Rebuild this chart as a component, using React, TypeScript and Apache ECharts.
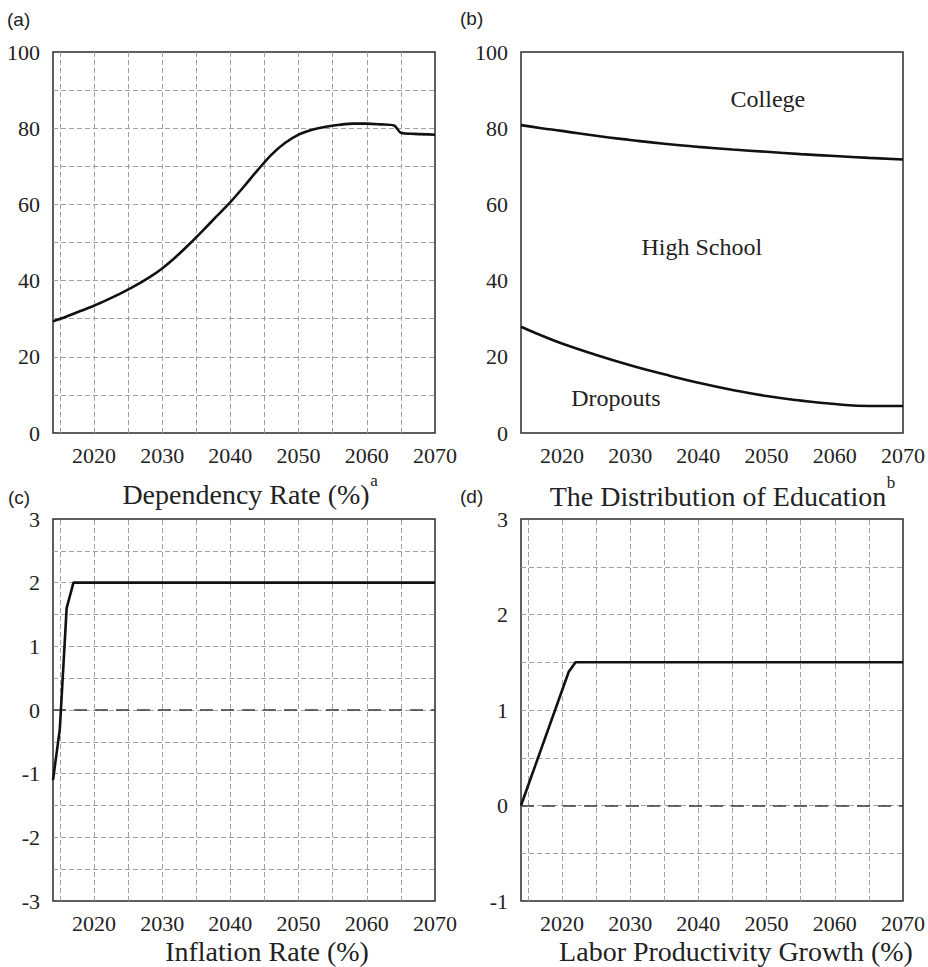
import React, { useEffect, useRef } from 'react';
import * as echarts from 'echarts';

// ---- data ----
const depYears = [2014, 2016, 2018, 2020, 2022, 2024, 2026, 2028, 2030, 2032, 2034, 2036, 2038, 2040, 2042, 2044, 2046, 2048, 2050, 2052, 2054, 2056, 2058, 2060, 2062, 2064, 2065, 2067, 2070];
const depValues = [29.3, 30.6, 32.0, 33.4, 35.0, 36.7, 38.6, 40.7, 43.2, 46.2, 49.6, 53.2, 56.9, 60.6, 64.7, 69.0, 73.0, 76.1, 78.3, 79.6, 80.4, 80.9, 81.2, 81.2, 81.0, 80.7, 78.8, 78.5, 78.3];

const eduYears = [2014, 2017, 2020, 2025, 2030, 2035, 2040, 2045, 2050, 2055, 2060, 2065, 2070];
const eduUpper = [80.8, 80.0, 79.3, 78.0, 76.9, 75.9, 75.1, 74.4, 73.8, 73.2, 72.7, 72.2, 71.8];
const eduLower = [27.9, 25.6, 23.5, 20.5, 17.8, 15.4, 13.2, 11.3, 9.7, 8.5, 7.6, 7.1, 7.1];
const eduLabels = ['College', 'High School', 'Dropouts'];

const inflYears = [2014, 2015, 2016, 2017, 2070];
const inflValues = [-1.1, -0.3, 1.6, 2.0, 2.0];

const prodYears = [2014, 2021, 2022, 2070];
const prodValues = [0, 1.4, 1.5, 1.5];

// tick labels / grid positions
const xTickLabels = [2020, 2030, 2040, 2050, 2060, 2070];
const gridYears = [2015, 2020, 2025, 2030, 2035, 2040, 2045, 2050, 2055, 2060, 2065];
const yTicksA = [0, 20, 40, 60, 80, 100];
const yTicksB = [0, 20, 40, 60, 80, 100];
const yTicksC = [-3, -2, -1, 0, 1, 2, 3];
const yTicksD = [-1, 0, 1, 2, 3];

const titles = ['Dependency Rate (%)', 'The Distribution of Education', 'Inflation Rate (%)', 'Labor Productivity Growth (%)'];
const superscripts = ['a', 'b'];
const panelTags = ['(a)', '(b)', '(c)', '(d)'];

// annotation anchor points (data coordinates) for panel (b) labels
const eduLabelAnchors = [[2050.2, 87.7], [2040.5, 48.8], [2027.9, 9.2]];

const SERIF = 'Liberation Serif';
const SANS = 'Liberation Sans';
const TEXT = '#222';
const GRID_LINE = { color: '#a0a0a0', type: [5, 3] as number[], width: 1 };
const X_MIN = 2014;
const X_MAX = 2070;

const pairs = (xs: number[], ys: number[]) => xs.map((x, i) => [x, ys[i]]);

function makeX(gridIndex: number) {
  return {
    type: 'value',
    gridIndex,
    min: X_MIN,
    max: X_MAX,
    axisLine: { show: false },
    axisTick: { show: false },
    splitLine: { show: false },
    axisLabel: { show: false },
  };
}

function makeY(gridIndex: number, min: number, max: number, interval: number, grid: boolean) {
  return {
    type: 'value',
    gridIndex,
    min,
    max,
    interval,
    axisLine: { show: false },
    axisTick: { show: false },
    splitLine: { show: grid, showMinLine: false, showMaxLine: false, lineStyle: GRID_LINE },
    axisLabel: { show: false },
  };
}

function tickLabelSeries(idx: number, yMin: number, yTicks: number[]) {
  const common = {
    type: 'scatter',
    xAxisIndex: idx,
    yAxisIndex: idx,
    symbolSize: 0,
    silent: true,
    clip: false,
    z: 7,
    itemStyle: { opacity: 1 },
  };
  const font = { fontFamily: SERIF, fontSize: 22, color: TEXT, textBorderWidth: 0 };
  return [
    {
      ...common,
      data: xTickLabels.map((x) => [x, yMin]),
      label: {
        show: true, position: 'bottom', distance: 11,
        formatter: (p: any) => String(p.value[0]),
        ...font,
      },
    },
    {
      ...common,
      data: yTicks.map((y) => [X_MIN, y]),
      label: {
        show: true, position: 'left', distance: 13,
        formatter: (p: any) => String(p.value[1]),
        ...font,
      },
    },
  ];
}

function vGridSeries(idx: number, withZero: boolean) {
  const data: any[] = gridYears.map((x) => ({ xAxis: x }));
  if (withZero) {
    data.push({ yAxis: 0, lineStyle: { color: '#3a3a3a', type: [13, 8], width: 1.5 } });
  }
  return {
    type: 'line',
    xAxisIndex: idx,
    yAxisIndex: idx,
    data: [],
    z: 1,
    silent: true,
    markLine: {
      silent: true,
      symbol: ['none', 'none'],
      label: { show: false },
      lineStyle: GRID_LINE,
      animation: false,
      data,
    },
  };
}

const LINE = { color: '#111', width: 2.6 };

function buildOption() {
  return {
    animation: false,
    backgroundColor: '#fff',
    textStyle: { fontFamily: SERIF },
    grid: [
      { left: 53, top: 52, width: 382, height: 381 },
      { left: 521, top: 52, width: 382, height: 381 },
      { left: 53, top: 519, width: 382, height: 382 },
      { left: 521, top: 519, width: 382, height: 382 },
    ].map((g) => ({ ...g, show: true, borderColor: '#2a2a2a', borderWidth: 1.5, backgroundColor: 'transparent' })),
    xAxis: [makeX(0), makeX(1), makeX(2), makeX(3)],
    yAxis: [
      makeY(0, 0, 100, 10, true),
      makeY(1, 0, 100, 20, false),
      makeY(2, -3, 3, 0.5, true),
      makeY(3, -1, 3, 0.5, true),
    ],
    series: [
      vGridSeries(0, false),
      {
        type: 'line', xAxisIndex: 0, yAxisIndex: 0, z: 5,
        data: pairs(depYears, depValues), showSymbol: false, smooth: 0.3,
        lineStyle: LINE,
      },
      {
        type: 'line', xAxisIndex: 1, yAxisIndex: 1, z: 5,
        data: pairs(eduYears, eduUpper), showSymbol: false, smooth: true,
        lineStyle: LINE,
      },
      {
        type: 'line', xAxisIndex: 1, yAxisIndex: 1, z: 5,
        data: pairs(eduYears, eduLower), showSymbol: false, smooth: true,
        lineStyle: LINE,
      },
      {
        type: 'scatter', xAxisIndex: 1, yAxisIndex: 1, z: 6, symbolSize: 0, silent: true,
        itemStyle: { opacity: 1 },
        data: eduLabels.map((name, i) => ({ name, value: eduLabelAnchors[i] })),
        label: {
          show: true, position: 'inside', formatter: '{b}',
          fontFamily: SERIF, fontSize: 24, color: TEXT, textBorderWidth: 0,
        },
      },
      vGridSeries(2, true),
      {
        type: 'line', xAxisIndex: 2, yAxisIndex: 2, z: 5,
        data: pairs(inflYears, inflValues), showSymbol: false,
        lineStyle: LINE,
      },
      vGridSeries(3, true),
      {
        type: 'line', xAxisIndex: 3, yAxisIndex: 3, z: 5,
        data: pairs(prodYears, prodValues), showSymbol: false,
        lineStyle: LINE,
      },
      ...tickLabelSeries(0, 0, yTicksA),
      ...tickLabelSeries(1, 0, yTicksB),
      ...tickLabelSeries(2, -3, yTicksC),
      ...tickLabelSeries(3, -1, yTicksD),
    ],
    graphic: [
      ...[
        [246, 494], [718, 496], [267, 951], [736, 951],
      ].map(([x, y], i) => ({
        type: 'text', x, y, silent: true,
        style: {
          text: titles[i], font: `28px "${SERIF}"`, fill: TEXT,
          align: 'center', verticalAlign: 'middle', textAlign: 'center', textVerticalAlign: 'middle',
        },
      })),
      ...[
        [374, 480], [891, 482],
      ].map(([x, y], i) => ({
        type: 'text', x, y, silent: true,
        style: {
          text: superscripts[i], font: `17px "${SERIF}"`, fill: TEXT,
          align: 'center', verticalAlign: 'middle', textAlign: 'center', textVerticalAlign: 'middle',
        },
      })),
      ...[
        [7, 19], [460, 18], [8, 497], [460, 496],
      ].map(([x, y], i) => ({
        type: 'text', x, y, silent: true,
        style: {
          text: panelTags[i], font: `19px "${SANS}"`, fill: TEXT,
          align: 'left', verticalAlign: 'middle', textAlign: 'left', textVerticalAlign: 'middle',
        },
      })),
    ],
  };
}

export default function App() {
  const ref = useRef<HTMLDivElement>(null);
  useEffect(() => {
    if (!ref.current) return;
    const chart = echarts.init(ref.current, null, { renderer: 'svg' });
    chart.setOption(buildOption() as any);
    return () => chart.dispose();
  }, []);
  return (
    <div
      ref={ref}
      style={{ position: 'absolute', left: 0, top: 0, width: 928, height: 967, background: '#fff' }}
    />
  );
}
